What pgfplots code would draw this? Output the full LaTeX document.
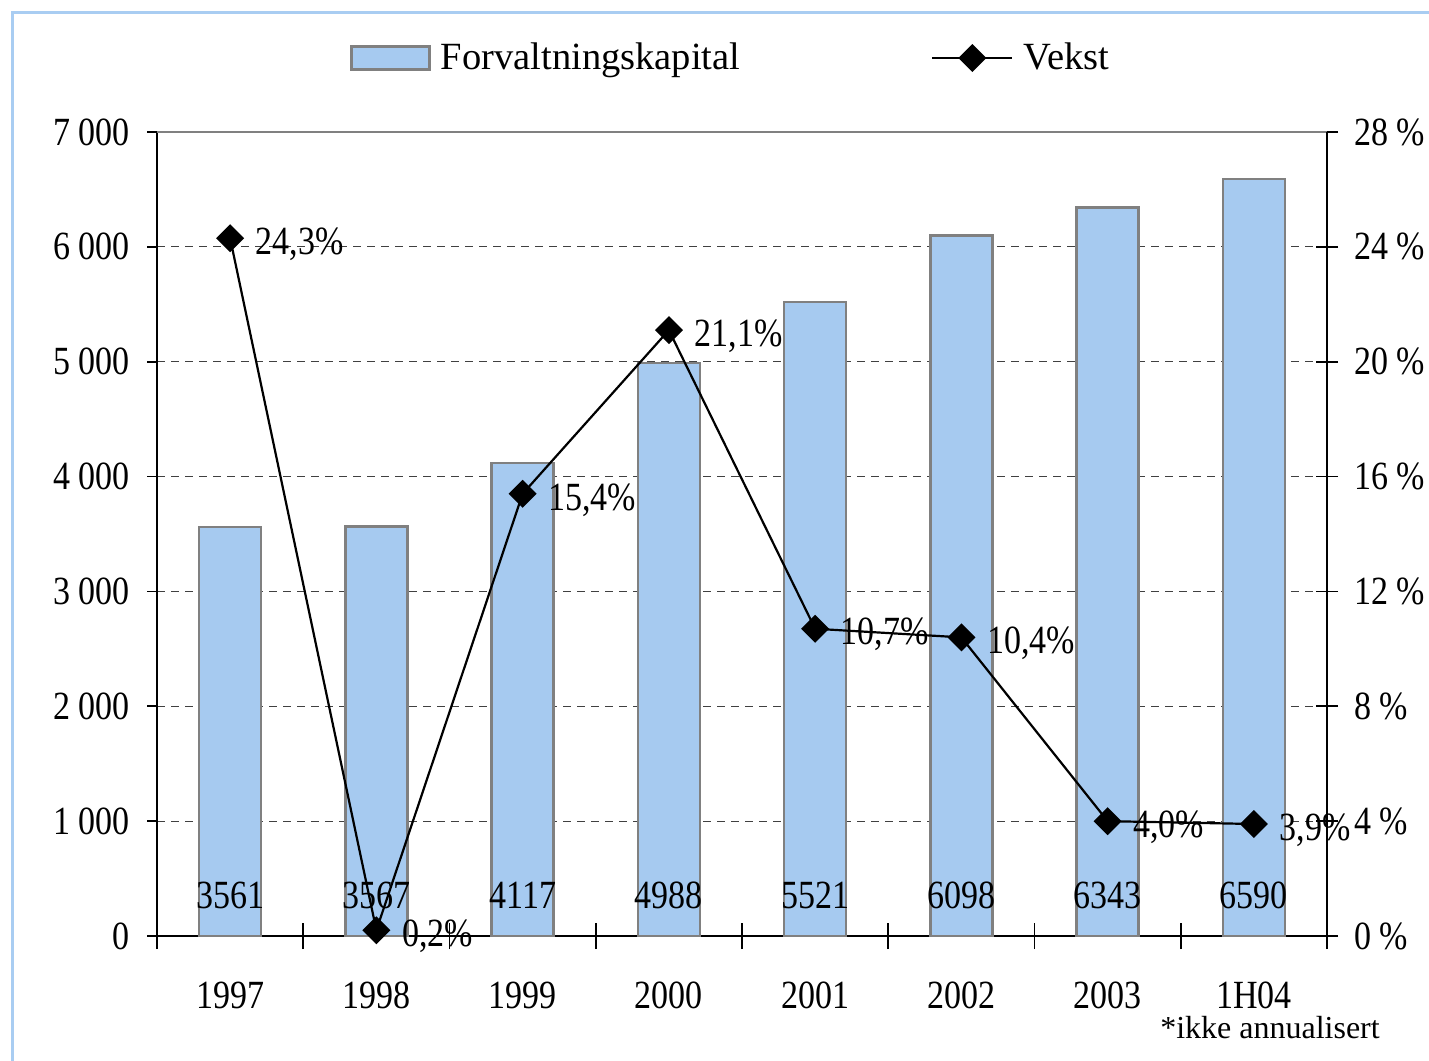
\documentclass[border=0pt]{standalone}
\usepackage{fontspec}
\setmainfont{Liberation Serif}[FakeStretch=0.85]
\newfontfamily\legfont{Liberation Serif}
\usepackage{pgfplots}
\usepackage{pgfplotstable}
\pgfplotsset{compat=1.18}
\definecolor{barblue}{HTML}{A6CAF0}
\definecolor{baredge}{HTML}{808080}
\definecolor{frameblue}{HTML}{A9CDF2}
\newcommand\mf{\fontsize{20pt}{24pt}\selectfont}
\newcommand\lf{\legfont\fontsize{19.25pt}{23pt}\selectfont}
\pgfplotsset{
  barleg/.style={legend image code/.code={\draw[fill=barblue,draw=baredge,line width=1.5pt] (0pt,-5.75pt) rectangle (39pt,5.75pt);}},
  lineleg/.style={legend image code/.code={\draw[black, line width=1.1pt] (0pt,0pt) -- (40pt,0pt); \draw[black, line width=1.1pt, mark=square*, mark size=4.4pt, mark options={rotate=45, solid}] plot coordinates {(20pt,0pt)};}},
}

\pgfplotstableread{
x y ly
0 3561 357
1 3567 357
2 4117 357
3 4988 357
4 5521 357
5 6098 357
6 6343 357
7 6590 357
}\bars

\pgfplotstableread{
x y lab
0 24.3 24,3
1 0.2 0,2
2 15.4 15,4
3 21.1 21,1
4 10.7 10,7
5 10.4 10,4
6 4.0 4,0
7 3.9 3,9
}\vekst

\begin{document}
\begin{tikzpicture}[x=1pt,y=1pt]
\useasboundingbox (0,0) rectangle (714.5,530);
\draw[frameblue, line width=1.5pt] (6,-20) -- (6,523.5) -- (740,523.5);
\begin{axis}[
  at={(78.5pt,62pt)}, anchor=south west,
  scale only axis, width=585pt, height=402pt,
  xmin=-0.5, xmax=7.5, ymin=0, ymax=7000,
  axis x line*=bottom, axis y line*=left,
  axis line style={black, line width=0.8pt, -},
  xtick={0,...,7},
  xticklabels={1997,1998,1999,2000,2001,2002,2003,1H04},
  major x tick style={draw=none},
  minor xtick={-0.5,0.5,...,7.5},
  minor x tick style={black, line width=0.8pt},
  minor tick length=13pt,
  tick align=center,
  ytick={0,1000,...,7000},
  major tick length=5pt,
  major y tick style={black, line width=0.8pt, xshift=-2.5pt},
  ymajorgrids,
  grid style={black!75, line width=0.5pt, dash pattern=on 4pt off 3pt},
  /pgf/number format/assume math mode=true,
  /pgf/number format/1000 sep={\hspace{0.22em}},
  tick label style={font=\mf},
  xticklabel style={yshift=-17pt},
  yticklabel style={xshift=-7.5pt},
  legend columns=2,
  legend style={at={(0.491,1.092)}, anchor=center, draw=none, fill=none, font=\lf,
    /tikz/every odd column/.append style={column sep=3pt},
    /tikz/every even column/.append style={column sep=93.5pt}},
  legend cell align=left,
]
\addplot[ybar, bar width=0.424, fill=barblue, draw=baredge, line width=1.2pt, barleg]
  table[x=x, y=y] {\bars};
\addlegendentry{Forvaltningskapital}
\addlegendimage{lineleg}
\addlegendentry{Vekst}
\addplot[draw=none, mark=none, nodes near coords, point meta=explicit symbolic,
  every node near coord/.style={anchor=center, font=\mf, text=black}, forget plot]
  table[x=x, y=ly, meta=y] {\bars};
\end{axis}
\begin{axis}[
  at={(78.5pt,62pt)}, anchor=south west,
  scale only axis, width=585pt, height=402pt,
  xmin=-0.5, xmax=7.5, ymin=0, ymax=28,
  axis x line*=top, axis y line*=right,
  x axis line style={baredge, line width=1.2pt, -},
  y axis line style={black, line width=0.8pt, -},
  xtick=\empty,
  ytick={0,4,...,28},
  tick align=center, major tick length=11pt,
  major y tick style={black, line width=0.8pt},
  yticklabel={\pgfmathprintnumber{\tick}\ \%},
  /pgf/number format/assume math mode=true,
  tick label style={font=\mf},
  yticklabel style={xshift=4.5pt},
]
\addplot[black, line width=1.1pt, mark=square*, mark size=4.4pt, mark options={rotate=45, solid},
  nodes near coords={\pgfplotspointmeta\%}, point meta=explicit symbolic,
  every node near coord/.style={anchor=west, xshift=9pt, yshift=-3pt, font=\mf, text=black}]
  table[x=x, y=y, meta=lab] {\vekst};
\end{axis}
\node[font=\legfont\fontsize{16pt}{19pt}\selectfont] at (635,16) {*ikke annualisert};
\end{tikzpicture}
\end{document}
